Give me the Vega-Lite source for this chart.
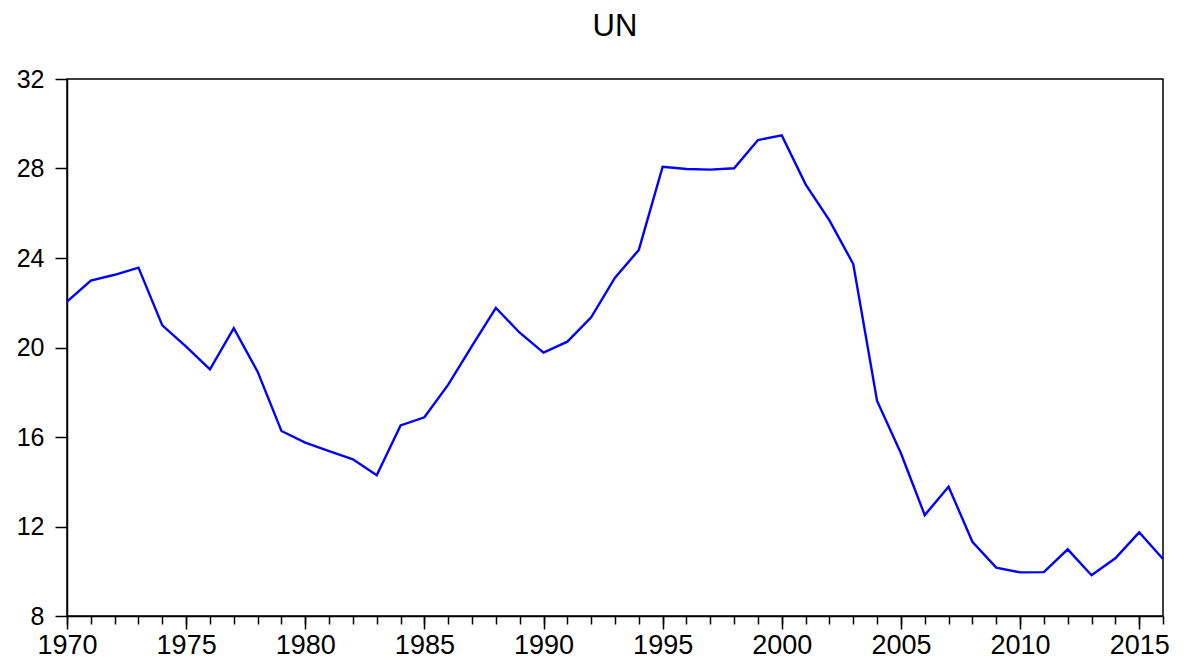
{
  "$schema": "https://vega.github.io/schema/vega-lite/v6.json",
  "autosize": {"type": "none"},
  "padding": {"left": 67, "top": 79, "right": 23, "bottom": 44},
  "width": 1096,
  "height": 537,
  "background": "white",
  "title": {"text": "UN", "font": "Liberation Sans", "fontSize": 31, "fontWeight": "normal", "color": "black", "anchor": "middle", "frame": "group", "offset": 24},
  "config": {
    "view": {"stroke": "black", "strokeWidth": 1.5},
    "axis": {"grid": false, "labelFont": "Liberation Sans", "labelFontSize": 25, "labelColor": "black", "tickColor": "black", "domainColor": "black", "tickWidth": 1.5, "domainWidth": 1.5, "title": null}
  },
  "data": {"values": [
    {"year": 1970, "UN": 22.05},
    {"year": 1971, "UN": 22.99},
    {"year": 1972, "UN": 23.25},
    {"year": 1973, "UN": 23.57},
    {"year": 1974, "UN": 20.99},
    {"year": 1975, "UN": 20.04},
    {"year": 1976, "UN": 19.02},
    {"year": 1977, "UN": 20.86},
    {"year": 1978, "UN": 18.92},
    {"year": 1979, "UN": 16.27},
    {"year": 1980, "UN": 15.75},
    {"year": 1981, "UN": 15.37},
    {"year": 1982, "UN": 15.0},
    {"year": 1983, "UN": 14.29},
    {"year": 1984, "UN": 16.52},
    {"year": 1985, "UN": 16.88},
    {"year": 1986, "UN": 18.34},
    {"year": 1987, "UN": 20.07},
    {"year": 1988, "UN": 21.77},
    {"year": 1989, "UN": 20.66},
    {"year": 1990, "UN": 19.77},
    {"year": 1991, "UN": 20.26},
    {"year": 1992, "UN": 21.35},
    {"year": 1993, "UN": 23.12},
    {"year": 1994, "UN": 24.36},
    {"year": 1995, "UN": 28.08},
    {"year": 1996, "UN": 27.98},
    {"year": 1997, "UN": 27.95},
    {"year": 1998, "UN": 28.01},
    {"year": 1999, "UN": 29.27},
    {"year": 2000, "UN": 29.48},
    {"year": 2001, "UN": 27.29},
    {"year": 2002, "UN": 25.68},
    {"year": 2003, "UN": 23.73},
    {"year": 2004, "UN": 17.61},
    {"year": 2005, "UN": 15.27},
    {"year": 2006, "UN": 12.51},
    {"year": 2007, "UN": 13.78},
    {"year": 2008, "UN": 11.32},
    {"year": 2009, "UN": 10.16},
    {"year": 2010, "UN": 9.95},
    {"year": 2011, "UN": 9.96},
    {"year": 2012, "UN": 10.98},
    {"year": 2013, "UN": 9.82},
    {"year": 2014, "UN": 10.58},
    {"year": 2015, "UN": 11.74},
    {"year": 2016, "UN": 10.55}
  ]},
  "layer": [
    {
      "mark": {"type": "line", "strokeOpacity": 0},
      "encoding": {
        "x": {"field": "year", "type": "quantitative", "scale": {"domain": [1970, 2016], "nice": false, "zero": false},
              "axis": {"orient": "bottom", "values": [1970,1971,1972,1973,1974,1975,1976,1977,1978,1979,1980,1981,1982,1983,1984,1985,1986,1987,1988,1989,1990,1991,1992,1993,1994,1995,1996,1997,1998,1999,2000,2001,2002,2003,2004,2005,2006,2007,2008,2009,2010,2011,2012,2013,2014,2015,2016], "labels": false, "domain": false, "tickSize": 8}},
        "y": {"field": "UN", "type": "quantitative", "scale": {"domain": [8, 32], "nice": false, "zero": false},
              "axis": {"orient": "left", "values": [8,12,16,20,24,28,32], "tickSize": 12, "labelPadding": 11, "labelFlush": false, "labelOverlap": false}}
      }
    },
    {
      "mark": {"type": "line", "color": "#0000FF", "strokeWidth": 2.4},
      "encoding": {
        "x": {"field": "year", "type": "quantitative", "scale": {"domain": [1970, 2016], "nice": false, "zero": false},
              "axis": {"orient": "bottom", "values": [1970,1975,1980,1985,1990,1995,2000,2005,2010,2015], "format": "d", "tickSize": 13, "labelPadding": 3, "labelFontSize": 27, "labelFlush": false, "labelOverlap": false}},
        "y": {"field": "UN", "type": "quantitative", "scale": {"domain": [8, 32], "nice": false, "zero": false},
              "axis": {"orient": "left", "values": [8,12,16,20,24,28,32], "tickSize": 12, "labelPadding": 11, "labelFlush": false, "labelOverlap": false}}
      }
    }
  ],
  "resolve": {"axis": {"x": "independent"}}
}
